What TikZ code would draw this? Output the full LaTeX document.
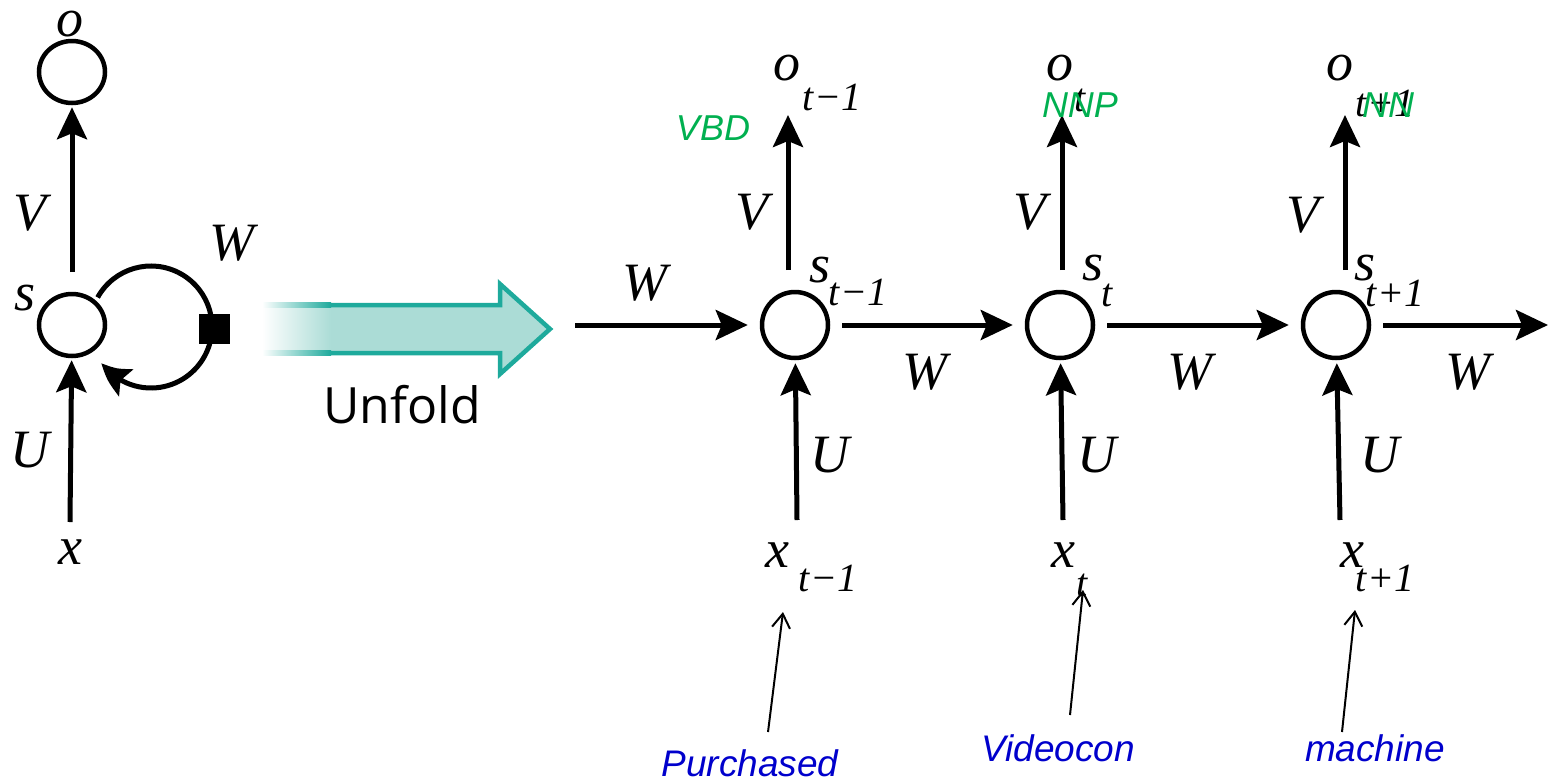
\documentclass[tikz,border=0pt]{standalone}
\usepackage{fontspec}
\setmainfont{Liberation Serif}
\newfontfamily\arialf{Liberation Sans}
\newfontfamily\unfoldf{Open Sans}
\usetikzlibrary{arrows.meta,shapes.geometric,calc,bending}
\definecolor{tagGreen}{HTML}{00B050}
\definecolor{wordBlue}{HTML}{0000CC}
\definecolor{tealLine}{HTML}{1EAA9C}
\definecolor{tealFill}{HTML}{ABDCD6}
\begin{document}
\begin{tikzpicture}[x=1pt,y=-1pt,
  lab/.style={font=\fontsize{54}{60}\selectfont\itshape, inner sep=0pt},
  sublab/.style={font=\fontsize{40}{46}\selectfont\itshape, inner sep=0pt},
  tag/.style={font=\arialf\fontsize{36}{40}\selectfont\itshape, text=tagGreen, inner sep=0pt},
  word/.style={font=\arialf\fontsize{37}{42}\selectfont\itshape, text=wordBlue, inner sep=0pt},
  unit/.style={circle, draw, line width=4.5pt, minimum size=66pt, inner sep=0pt},
  leftunit/.style={ellipse, draw, line width=4.5pt, minimum width=66pt, minimum height=62pt, inner sep=0pt},
  bigarrow/.style={line width=5pt, -{Stealth[length=32pt,width=30pt,inset=6pt]}},
  looparrow/.style={line width=5pt, -{Stealth[length=32pt,width=30pt,inset=6pt,bend]}},
  pointer/.style={line width=2pt, -{Straight Barb[length=14pt,width=18pt]}},
]
\useasboundingbox (0,0) rectangle (1548,780);

% ---------- folded network ----------
\node[leftunit] (o0) at (72,72) {};
\node[leftunit] (s0) at (72,325) {};
\node[lab] (lo0) at (70,24) {o};
\node[lab] (lV0) at (30,213) {V};
\node[lab] (lW0) at (232,243) {W};
\node[lab] (ls0) at (25,298) {s};
\node[lab] (lU0) at (30,450) {U};
\node[lab] (lx0) at (70,552) {x};
\coordinate (va0) at (72,272);
\coordinate (ua0) at (70,522);
\draw[bigarrow, shorten >=2pt] (va0) -- (o0);
\draw[bigarrow, shorten >=2pt] (ua0) -- (s0);
\coordinate (lc) at (151,327);
\draw[looparrow] ($(lc)+(-151:61)$) arc[start angle=-151, end angle=144, radius=61];
\node[fill=black, minimum width=31pt, minimum height=30pt, inner sep=0pt] (sq) at (214,329) {};

% ---------- unfold arrow ----------
\fill[tealFill] (330,305) -- (500,305) -- (500,284) -- (550,329) -- (500,374) -- (500,353) -- (330,353) -- cycle;
\shade[left color=white, right color=tealFill] (262,305) rectangle (331,353);
\draw[tealLine, line width=4.5pt, line join=miter] (330,305) -- (500,305) -- (500,284) -- (550,329) -- (500,374) -- (500,353) -- (330,353);
\shade[left color=white, right color=tealLine] (262,302.75) rectangle (331,307.25);
\shade[left color=white, right color=tealLine] (262,350.75) rectangle (331,355.25);
\node[font=\unfoldf\fontsize{50}{56}\selectfont, inner sep=0pt] (unf) at (402,405) {Unfold};

% ---------- unfolded network ----------
\node[unit] (s1) at (795,325) {};
\node[unit] (s2) at (1060,325) {};
\node[unit] (s3) at (1336,325) {};
\coordinate (win) at (575,325);
\coordinate (wout) at (1548,325);
\draw[bigarrow, shorten >=12pt] (win) -- (s1);
\draw[bigarrow, shorten <=12pt, shorten >=12pt] (s1) -- (s2);
\draw[bigarrow, shorten <=12pt, shorten >=12pt] (s2) -- (s3);
\draw[bigarrow, shorten <=12pt] (s3) -- (wout);

\coordinate (va1) at (788,270);  \coordinate (vb1) at (788,115);
\coordinate (va2) at (1062,270); \coordinate (vb2) at (1062,115);
\coordinate (va3) at (1345,270); \coordinate (vb3) at (1345,115);
\draw[bigarrow] (va1) -- (vb1);
\draw[bigarrow] (va2) -- (vb2);
\draw[bigarrow] (va3) -- (vb3);

\coordinate (ua1) at (797,520);
\coordinate (ua2) at (1063,520);
\coordinate (ua3) at (1340,520);
\draw[bigarrow, shorten >=3pt] (ua1) -- (s1);
\draw[bigarrow, shorten >=3pt] (ua2) -- (s2);
\draw[bigarrow, shorten >=3pt] (ua3) -- (s3);

% labels column 1
\node[lab] (lWin) at (645,283) {W};
\node[lab] (lo1) at (787,68) {o};
\node[sublab] (lo1s) at (832,97) {t−1};
\node[lab] (lV1) at (752,212) {V};
\node[lab] (ls1) at (820,270) {s};
\node[sublab] (ls1s) at (858,292) {t−1};
\node[lab] (lW1) at (925,372) {W};
\node[lab] (lU1) at (830,455) {U};
\node[lab] (lx1) at (777,555) {x};
\node[sublab] (lx1s) at (828,578) {t−1};
% labels column 2
\node[lab] (lo2) at (1060,68) {o};
\node[sublab] (lo2s) at (1080,100) {t};
\node[lab] (lV2) at (1030,212) {V};
\node[lab] (ls2) at (1093,268) {s};
\node[sublab] (ls2s) at (1107,295) {t};
\node[lab] (lW2) at (1190,372) {W};
\node[lab] (lU2) at (1097,455) {U};
\node[lab] (lx2) at (1063,555) {x};
\node[sublab] (lx2s) at (1082,585) {t};
% labels column 3
\node[lab] (lo3) at (1340,68) {o};
\node[sublab] (lo3s) at (1385,103) {t+1};
\node[lab] (lV3) at (1303,215) {V};
\node[lab] (ls3) at (1365,268) {s};
\node[sublab] (ls3s) at (1395,293) {t+1};
\node[lab] (lW3) at (1468,372) {W};
\node[lab] (lU3) at (1380,455) {U};
\node[lab] (lx3) at (1352,555) {x};
\node[sublab] (lx3s) at (1385,578) {t+1};

% tags
\node[tag] (g1) at (713,128) {VBD};
\node[tag] (g2) at (1080,105) {NNP};
\node[tag] (g3) at (1388,105) {NN};

% words
\node[word] (w1) at (750,763) {Purchased};
\node[word] (w2) at (1058,748) {Videocon};
\node[word] (w3) at (1375,748) {machine};
\coordinate (p1a) at (768,732);  \coordinate (p1b) at (783,612);
\coordinate (p2a) at (1070,715); \coordinate (p2b) at (1083,590);
\coordinate (p3a) at (1342,732); \coordinate (p3b) at (1355,610);
\draw[pointer] (p1a) -- (p1b);
\draw[pointer] (p2a) -- (p2b);
\draw[pointer] (p3a) -- (p3b);
\end{tikzpicture}
\end{document}
